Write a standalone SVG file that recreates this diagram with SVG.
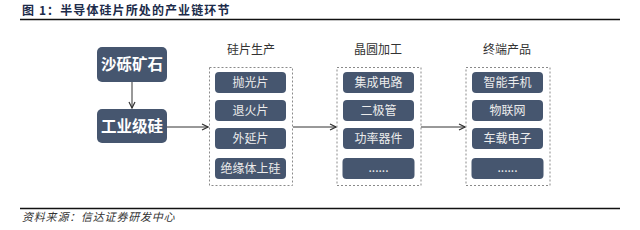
<svg xmlns="http://www.w3.org/2000/svg" width="640" height="230" viewBox="0 0 640 230">
<style>
.t{font-family:"Noto Sans CJK SC","Noto Sans",sans-serif}
.big{fill:#46566F}
.bigt{fill:#fff;font-size:15.5px;font-weight:bold;text-anchor:middle}
.in{fill:#46566F}
.int{fill:#ECECEC;font-size:12px;text-anchor:middle}
.cont{fill:#fff;stroke:#8a8a8a;stroke-width:1;stroke-dasharray:2,2}
.ct{fill:#333;font-size:12px;text-anchor:middle}
.ar{stroke:#333;stroke-width:1;fill:none}
</style>
<defs>
<marker id="ah" markerWidth="8" markerHeight="8" refX="7" refY="4" orient="auto" markerUnits="userSpaceOnUse">
<path d="M1,1 L7,4 L1,7" fill="none" stroke="#333" stroke-width="1.2"/>
</marker>
</defs>
<rect width="640" height="230" fill="#fff"/>
<text class="t" x="22" y="15" font-size="12" font-weight="bold" fill="#1c2b4a" letter-spacing="1.1">图 1：半导体硅片所处的产业链环节</text>
<line x1="20" y1="19.5" x2="620" y2="19.5" stroke="#111" stroke-width="1.5"/>
<line x1="20" y1="208.5" x2="620" y2="208.5" stroke="#111" stroke-width="1.5"/>
<text class="t" x="22" y="221" font-size="11" font-style="italic" fill="#333" letter-spacing="0.8">资料来源：信达证券研发中心</text>

<g id="connectors">
<line class="ar" x1="132" y1="82" x2="132" y2="108" marker-end="url(#ah)"/>
<line class="ar" x1="167" y1="127" x2="208" y2="127" marker-end="url(#ah)"/>
<line class="ar" x1="293" y1="127" x2="336" y2="127" marker-end="url(#ah)"/>
<line class="ar" x1="421" y1="127" x2="465" y2="127" marker-end="url(#ah)"/>
</g>

<g id="n-shali">
<rect class="big" x="97" y="47" width="70" height="35" rx="5"/>
<text class="t bigt" x="132" y="70">沙砾矿石</text>
</g>
<g id="n-gongye">
<rect class="big" x="97" y="109" width="70" height="34" rx="5"/>
<text class="t bigt" x="132" y="131.5">工业级硅</text>
</g>

<g id="c-guipian">
<text class="t ct" x="251" y="54">硅片生产</text>
<rect class="cont" x="209.5" y="67.5" width="83" height="118"/>
<g id="n-paoguang"><rect class="in" x="215" y="72" width="71" height="21" rx="4"/><text class="t int" x="250.5" y="87">抛光片</text></g>
<g id="n-tuihuo"><rect class="in" x="215" y="100" width="71" height="21" rx="4"/><text class="t int" x="250.5" y="115">退火片</text></g>
<g id="n-waiyan"><rect class="in" x="215" y="128" width="71" height="21" rx="4"/><text class="t int" x="250.5" y="143">外延片</text></g>
<g id="n-jueyuan"><rect class="in" x="215" y="158" width="71" height="21" rx="4"/><text class="t int" x="250.5" y="172.5" font-size="11">绝缘体上硅</text></g>
</g>

<g id="c-jingyuan">
<text class="t ct" x="378" y="54">晶圆加工</text>
<rect class="cont" x="337" y="67.5" width="84" height="118"/>
<g id="n-jicheng"><rect class="in" x="343" y="72" width="71" height="21" rx="4"/><text class="t int" x="378.5" y="87">集成电路</text></g>
<g id="n-erji"><rect class="in" x="343" y="100" width="71" height="21" rx="4"/><text class="t int" x="378.5" y="115">二极管</text></g>
<g id="n-gonglv"><rect class="in" x="343" y="128" width="71" height="21" rx="4"/><text class="t int" x="378.5" y="143">功率器件</text></g>
<g id="n-etc1"><rect class="in" x="342.5" y="158" width="72" height="21" rx="4"/><text class="t int" x="378.5" y="172" font-size="8" fill="#9aa3b3">......</text></g>
</g>

<g id="c-zhongduan">
<text class="t ct" x="507" y="54">终端产品</text>
<rect class="cont" x="466" y="67.5" width="84" height="118"/>
<g id="n-zhineng"><rect class="in" x="472" y="72" width="71" height="21" rx="4"/><text class="t int" x="507.5" y="87">智能手机</text></g>
<g id="n-wulian"><rect class="in" x="472" y="100" width="71" height="21" rx="4"/><text class="t int" x="507.5" y="115">物联网</text></g>
<g id="n-chezai"><rect class="in" x="472" y="128" width="71" height="21" rx="4"/><text class="t int" x="507.5" y="143">车载电子</text></g>
<g id="n-etc2"><rect class="in" x="471.5" y="158" width="72" height="21" rx="4"/><text class="t int" x="507.5" y="172" font-size="8" fill="#9aa3b3">......</text></g>
</g>
</svg>
